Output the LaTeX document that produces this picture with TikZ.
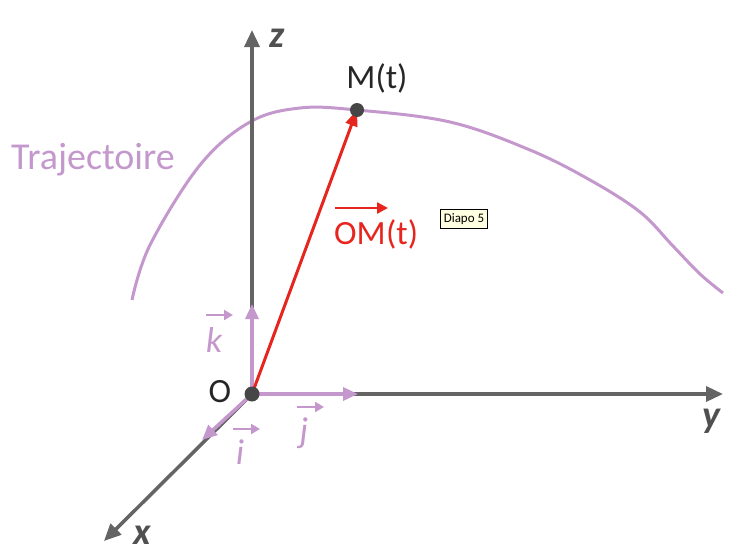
\documentclass[tikz,border=0pt]{standalone}
\usepackage{fontspec}
\setmainfont{Carlito}
\usetikzlibrary{arrows.meta}
\definecolor{axgray}{RGB}{100,100,100}
\definecolor{traj}{RGB}{196,152,204}
\definecolor{vecred}{RGB}{230,38,30}
\definecolor{dotgray}{RGB}{70,70,70}
\definecolor{tipyellow}{RGB}{255,255,225}
\tikzset{
  axis/.style={draw=axgray, line width=3.5pt, -{Triangle[length=17pt,width=15pt]}},
  unitvec/.style={draw=traj, line width=3.5pt, -{Triangle[length=15pt,width=13pt]}},
  axlabel/.style={text=axgray!80!black, inner sep=0pt, font=\fontsize{38}{40}\selectfont\bfseries\itshape},
  veclabel/.style={text=traj, inner sep=0pt, font=\fontsize{36}{38}\selectfont\itshape},
  vecarrow/.style={draw=traj, line width=2.5pt, -{Triangle[length=9pt,width=10pt]}},
  ptlabel/.style={text=black!85, inner sep=0pt, font=\fontsize{34}{36}\selectfont},
}
\begin{document}
\begin{tikzpicture}[x=1pt,y=-1pt]
\useasboundingbox (0,0) rectangle (735,555);
\coordinate (O) at (252,394);
\coordinate (zend) at (252,30);
\coordinate (yend) at (723,394);
\coordinate (xend) at (104,541);
\coordinate (kend) at (252,304);
\coordinate (jend) at (358,394);
\coordinate (iend) at (202,440);
\coordinate (M) at (357,110);
% trajectory
\draw[traj, line width=3pt] plot[smooth, tension=0.6] coordinates {
 (132,300) (150,245) (200,165) (250,122) (300,108) (357,110) (450,122)
 (530,150) (590,180) (640,212) (672,245) (700,274) (723,293)};
% axes
\draw[axis] (O) -- (zend);
\draw[axis] (O) -- (yend);
\draw[axis] (O) -- (xend);
% unit vectors
\draw[unitvec] (O) -- (kend);
\draw[unitvec] (O) -- (jend);
\draw[unitvec] (O) -- (iend);
% position vector
\draw[vecred, line width=3pt, -{Triangle[length=16pt,width=12pt]}] (O) -- (M);
\fill[dotgray] (O) circle (7.5pt);
\fill[dotgray] (M) circle (7pt);
% labels
\node[axlabel] (zl) at (277,38) {z};
\node[axlabel] (yl) at (711,421) {y};
\node[axlabel] (xl) at (142,535) {x};
\node[ptlabel] (Ol) at (220,392) {O};
\node[ptlabel] (Ml) at (377,78) {M(t)};
\node[text=traj, inner sep=0pt, font=\fontsize{38}{40}\selectfont] (tl) at (93,160) {Trajectoire};
\node[text=vecred, inner sep=0pt, anchor=west, font=\fontsize{34}{36}\selectfont] (oml) at (334,234) {OM};
\node[text=vecred, inner sep=0pt, anchor=west, font=\fontsize{34}{36}\selectfont] (tpl) at (oml.east) {(t)};
\coordinate (omA) at (335,208);
\coordinate (omB) at (388,208);
\draw[vecred, line width=2.5pt, -{Triangle[length=11pt,width=11pt]}] (omA) -- (omB);
\node[veclabel] (kl) at (214,340) {k};
\node[veclabel] (jl) at (304,433) {j};
\node[veclabel] (il) at (240,452) {i};
\coordinate (kA) at (206,315);
\coordinate (kB) at (233,315);
\coordinate (jA) at (297,407);
\coordinate (jB) at (324,407);
\coordinate (iA) at (233,429);
\coordinate (iB) at (260,429);
\draw[vecarrow] (kA) -- (kB);
\draw[vecarrow] (jA) -- (jB);
\draw[vecarrow] (iA) -- (iB);
\node[draw=black, fill=tipyellow, line width=0.8pt, inner xsep=3pt, inner ysep=4pt, font=\fontsize{13}{14}\selectfont] (tip) at (464,219) {Diapo 5};
\end{tikzpicture}
\end{document}
